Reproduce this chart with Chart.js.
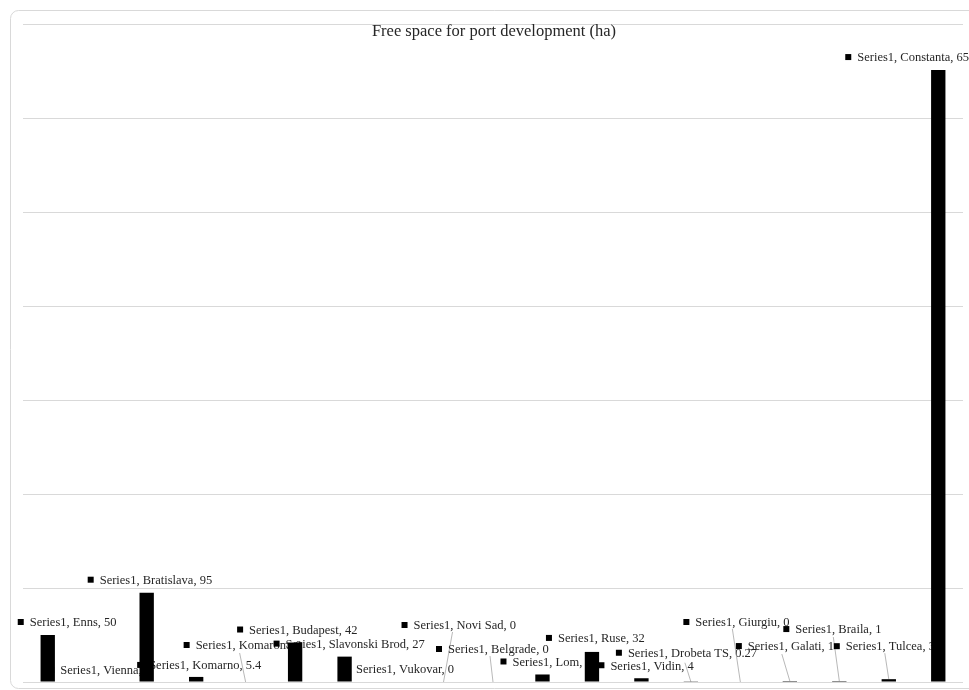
<!DOCTYPE html>
<html>
<head>
<meta charset="utf-8">
<script src="https://cdn.jsdelivr.net/npm/chart.js@4.4.1/dist/chart.umd.min.js"></script>
<style>
  html, body { margin: 0; padding: 0; background: #ffffff; }
  #wrap { width: 969px; height: 690px; position: relative; overflow: hidden; }
</style>
</head>
<body>
<div id="wrap"><canvas id="chart" width="969" height="690"></canvas></div>
<script>
// Danube ports, free space for port development (hectares)
const ports = ['Enns', 'Vienna', 'Bratislava', 'Komarno', 'Komarom', 'Budapest',
  'Slavonski Brod', 'Vukovar', 'Novi Sad', 'Belgrade', 'Lom', 'Ruse', 'Vidin',
  'Drobeta TS', 'Giurgiu', 'Galati', 'Braila', 'Tulcea', 'Constanta'];
const freeSpace = [50, 0, 95, 5.4, 0, 42, 27, 0, 0, 0, 8, 32, 4, 0.27, 0, 1, 1, 3, 651];
const seriesName = 'Series1';
const chartTitle = 'Free space for port development (ha)';
const yTicks = [0, 100, 200, 300, 400, 500, 600, 700];

// Hand-placed label anchors (marker centre), relative to the top of each bar
const labelNudge = [
  [-27, -13], [-46, -12], [-56, -13], [-56, -12], [-59, -37], [-55, -13],
  [-68, -13], [-47, -13], [-39, -57], [-54, -33], [-39, -13], [-43, -14],
  [-40, -13], [-72, -29], [-54, -60], [-51, -35], [-53, -52], [-52, -33],
  [-90, -13]
];
// Leader line start, relative to the label marker (null = no leader)
const leaderStart = [
  null, null, null, null, [53, 8], null, null, null, [48, 7], [51, 7],
  null, null, null, [66, 10], [46, 7], [43, 8], [47, 8], [48, 7], null
];

const labelFont = '12.5px "Liberation Serif", serif';

const framePlugin = {
  id: 'frame',
  beforeDraw(chart) {
    const ctx = chart.ctx;
    ctx.save();
    ctx.fillStyle = '#ffffff';
    ctx.fillRect(0, 0, chart.width, chart.height);
    ctx.strokeStyle = '#d9d9d9';
    ctx.lineWidth = 1;
    ctx.beginPath();
    ctx.roundRect(10.5, 10.5, 990, 678, 8);
    ctx.stroke();
    ctx.restore();
  }
};

const titlePlugin = {
  id: 'innerTitle',
  afterDraw(chart) {
    const ctx = chart.ctx;
    const area = chart.chartArea;
    ctx.save();
    ctx.font = '16.5px "Liberation Serif", serif';
    ctx.fillStyle = '#262626';
    ctx.textAlign = 'center';
    ctx.textBaseline = 'middle';
    ctx.fillText(chartTitle, 494, area.top + 8);
    ctx.restore();
  }
};

// Labels go underneath the bars, so overlapping bars hide parts of them
const labelPlugin = {
  id: 'pointLabels',
  beforeDatasetsDraw(chart) {
    const ctx = chart.ctx;
    const meta = chart.getDatasetMeta(0);
    ctx.save();
    ctx.font = labelFont;
    ctx.textBaseline = 'middle';
    ctx.textAlign = 'left';
    meta.data.forEach((bar, i) => {
      const mx = bar.x + labelNudge[i][0];
      const my = bar.y + labelNudge[i][1];
      const ls = leaderStart[i];
      if (ls) {
        ctx.strokeStyle = '#a6a6a6';
        ctx.lineWidth = 0.8;
        ctx.beginPath();
        ctx.moveTo(mx + ls[0], my + ls[1]);
        ctx.lineTo(bar.x, bar.y);
        ctx.stroke();
      }
      ctx.fillStyle = '#000000';
      ctx.fillRect(mx - 3, my - 3, 6, 6);
      ctx.fillStyle = '#262626';
      const text = seriesName + ', ' + ports[i] + ', ' + freeSpace[i];
      ctx.fillText(text, mx + 9, my + 1);
    });
    ctx.restore();
  }
};

new Chart(document.getElementById('chart'), {
  type: 'bar',
  data: {
    labels: ports,
    datasets: [{
      label: seriesName,
      data: freeSpace,
      backgroundColor: '#000000',
      borderWidth: 0,
      categoryPercentage: 1,
      barPercentage: 0.29
    }]
  },
  options: {
    responsive: false,
    animation: false,
    devicePixelRatio: 1,
    layout: { padding: { left: 23, right: 6, top: 24, bottom: 8 } },
    plugins: {
      legend: { display: false },
      title: { display: false },
      tooltip: { enabled: false }
    },
    scales: {
      x: { display: false },
      y: {
        min: yTicks[0],
        max: yTicks[yTicks.length - 1],
        afterBuildTicks(axis) { axis.ticks = yTicks.map(v => ({ value: v })); },
        ticks: { display: false },
        border: { display: false },
        grid: { color: '#d9d9d9', lineWidth: 1, drawTicks: false }
      }
    }
  },
  plugins: [framePlugin, titlePlugin, labelPlugin]
});
</script>
</body>
</html>
